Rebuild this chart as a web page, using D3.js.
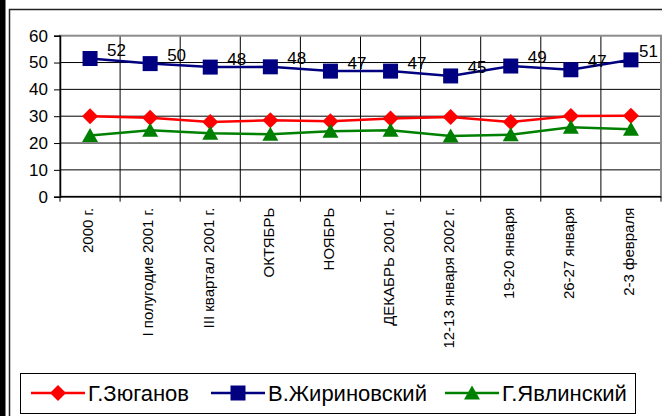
<!DOCTYPE html>
<html><head><meta charset="utf-8">
<script src="https://cdn.jsdelivr.net/npm/d3@7"></script>
<style>
html,body{margin:0;padding:0;background:#fff;}
svg{display:block;font-family:Arial,"Liberation Sans",sans-serif;}
</style></head>
<body>
<svg id="c" width="662" height="416"></svg>
<script>
const categories = ["2000 г.", "I полугодие 2001 г.", "III квартал 2001 г.", "ОКТЯБРЬ", "НОЯБРЬ",
  "ДЕКАБРЬ 2001 г.", "12-13 января 2002 г.", "19-20 января", "26-27 января", "2-3 февраля"];
const seriesNames = ["Г.Зюганов", "В.Жириновский", "Г.Явлинский"];
const zyuganov    = [30.0, 29.4, 27.8, 28.5, 28.1, 29.1, 29.7, 27.8, 30.1, 30.2];
const zhirinovsky = [51.5, 49.6, 48.3, 48.4, 46.8, 46.8, 45.0, 48.7, 47.3, 51.0];
const yavlinsky   = [22.8, 24.8, 23.6, 23.3, 24.4, 24.8, 22.6, 23.1, 25.9, 25.1];
const yTicks = [0, 10, 20, 30, 40, 50, 60];

const svg = d3.select("#c");
const L = 60, R = 661, T = 35.7, B = 196.7;

// outer frame
svg.append("rect").attr("x", 0).attr("y", 0).attr("width", 5.5).attr("height", 416).attr("fill", "#000");
svg.append("rect").attr("x", 9.5).attr("y", 9.5).attr("width", 700).attr("height", 450)
  .attr("fill", "none").attr("stroke", "#222").attr("stroke-width", 1.5);

const x = d3.scaleBand().domain(categories).range([L, R]);
const y = d3.scaleLinear().domain([0, 60]).range([B, T]);

// horizontal gridlines
svg.append("g").selectAll("line").data(yTicks.filter(t => t > 0 && t < 60)).join("line")
  .attr("x1", L).attr("x2", R).attr("y1", d => y(d)).attr("y2", d => y(d))
  .attr("stroke", "#000").attr("stroke-width", 1);
// vertical gridlines at category boundaries
svg.append("g").selectAll("line").data(categories.slice(1)).join("line")
  .attr("x1", d => x(d)).attr("x2", d => x(d)).attr("y1", T).attr("y2", B)
  .attr("stroke", "#000").attr("stroke-width", 1);
// plot area border
svg.append("rect").attr("x", L).attr("y", T).attr("width", R - L).attr("height", B - T)
  .attr("fill", "none").attr("stroke", "#8c8c8c").attr("stroke-width", 2);

// y axis
const yAxis = svg.append("g").attr("transform", `translate(${L},0)`)
  .call(d3.axisLeft(y).tickValues(yTicks).tickSize(6).tickPadding(6));
yAxis.select(".domain").attr("stroke", "#000").attr("stroke-width", 1.5);
yAxis.selectAll(".tick line").attr("stroke", "#000");
yAxis.selectAll(".tick text").attr("font-size", 17).attr("font-family", "Arial, 'Liberation Sans', sans-serif").attr("fill", "#000");

// x axis line and ticks at boundaries
svg.append("line").attr("x1", L).attr("x2", R).attr("y1", B).attr("y2", B).attr("stroke", "#000").attr("stroke-width", 1.5);
const bounds = categories.map(c => x(c)).concat([R]);
svg.append("g").selectAll("line").data(bounds).join("line")
  .attr("x1", d => d).attr("x2", d => d).attr("y1", B).attr("y2", B + 5)
  .attr("stroke", "#000");

// category labels
svg.append("g").selectAll("text").data(categories).join("text")
  .attr("transform", d => `translate(${x(d) + x.bandwidth() / 2 - 2},${B + 11}) rotate(-90)`)
  .attr("text-anchor", "end").attr("dy", "0.35em")
  .attr("font-size", 15).attr("fill", "#000").text(d => d);

const cx = d => x(d) + x.bandwidth() / 2;
const series = [
  {name: seriesNames[0], values: zyuganov, color: "#ff0000", marker: "diamond"},
  {name: seriesNames[1], values: zhirinovsky, color: "#000080", marker: "square"},
  {name: seriesNames[2], values: yavlinsky, color: "#008000", marker: "triangle"}
];

function markerPath(type, px, py) {
  if (type === "diamond") return `M${px},${py - 8}L${px + 8},${py}L${px},${py + 8}L${px - 8},${py}Z`;
  if (type === "square") return `M${px - 7.5},${py - 7.5}h15v15h-15Z`;
  return `M${px},${py - 7.5}L${px + 8},${py + 6.5}L${px - 8},${py + 6.5}Z`;
}

const line = d3.line().x((d, i) => cx(categories[i])).y(d => y(d));
series.forEach(s => {
  svg.append("path").attr("d", line(s.values)).attr("fill", "none")
    .attr("stroke", s.color).attr("stroke-width", 2.5);
  svg.append("g").selectAll("path").data(s.values).join("path")
    .attr("d", (d, i) => markerPath(s.marker, cx(categories[i]), y(d)))
    .attr("fill", s.color);
});

// data labels for Zhirinovsky (kept inside the chart's right edge)
svg.append("g").selectAll("text").data(zhirinovsky).join("text")
  .attr("y", d => y(d) - 8.5).attr("dy", "0.35em")
  .attr("font-size", 17).attr("fill", "#000")
  .text(d => Math.round(d))
  .attr("x", function(d, i) {
    const w = this.getComputedTextLength();
    return Math.min(cx(categories[i]) + 17, 658 - w);
  });

// legend
const lg = svg.append("g");
lg.append("rect").attr("x", 20.5).attr("y", 373.5).attr("width", 615).attr("height", 40)
  .attr("fill", "#fff").attr("stroke", "#000").attr("stroke-width", 1);
const legendX = [31, 211, 445];
series.forEach((s, i) => {
  const x0 = legendX[i], ly = 393;
  lg.append("line").attr("x1", x0).attr("x2", x0 + 54).attr("y1", ly).attr("y2", ly)
    .attr("stroke", s.color).attr("stroke-width", 2.5);
  lg.append("path").attr("d", markerPath(s.marker, x0 + 27, ly)).attr("fill", s.color);
  lg.append("text").attr("x", x0 + 57).attr("y", ly).attr("dy", "0.35em")
    .attr("font-size", 22).attr("fill", "#000").text(s.name);
});
</script>
</body></html>
